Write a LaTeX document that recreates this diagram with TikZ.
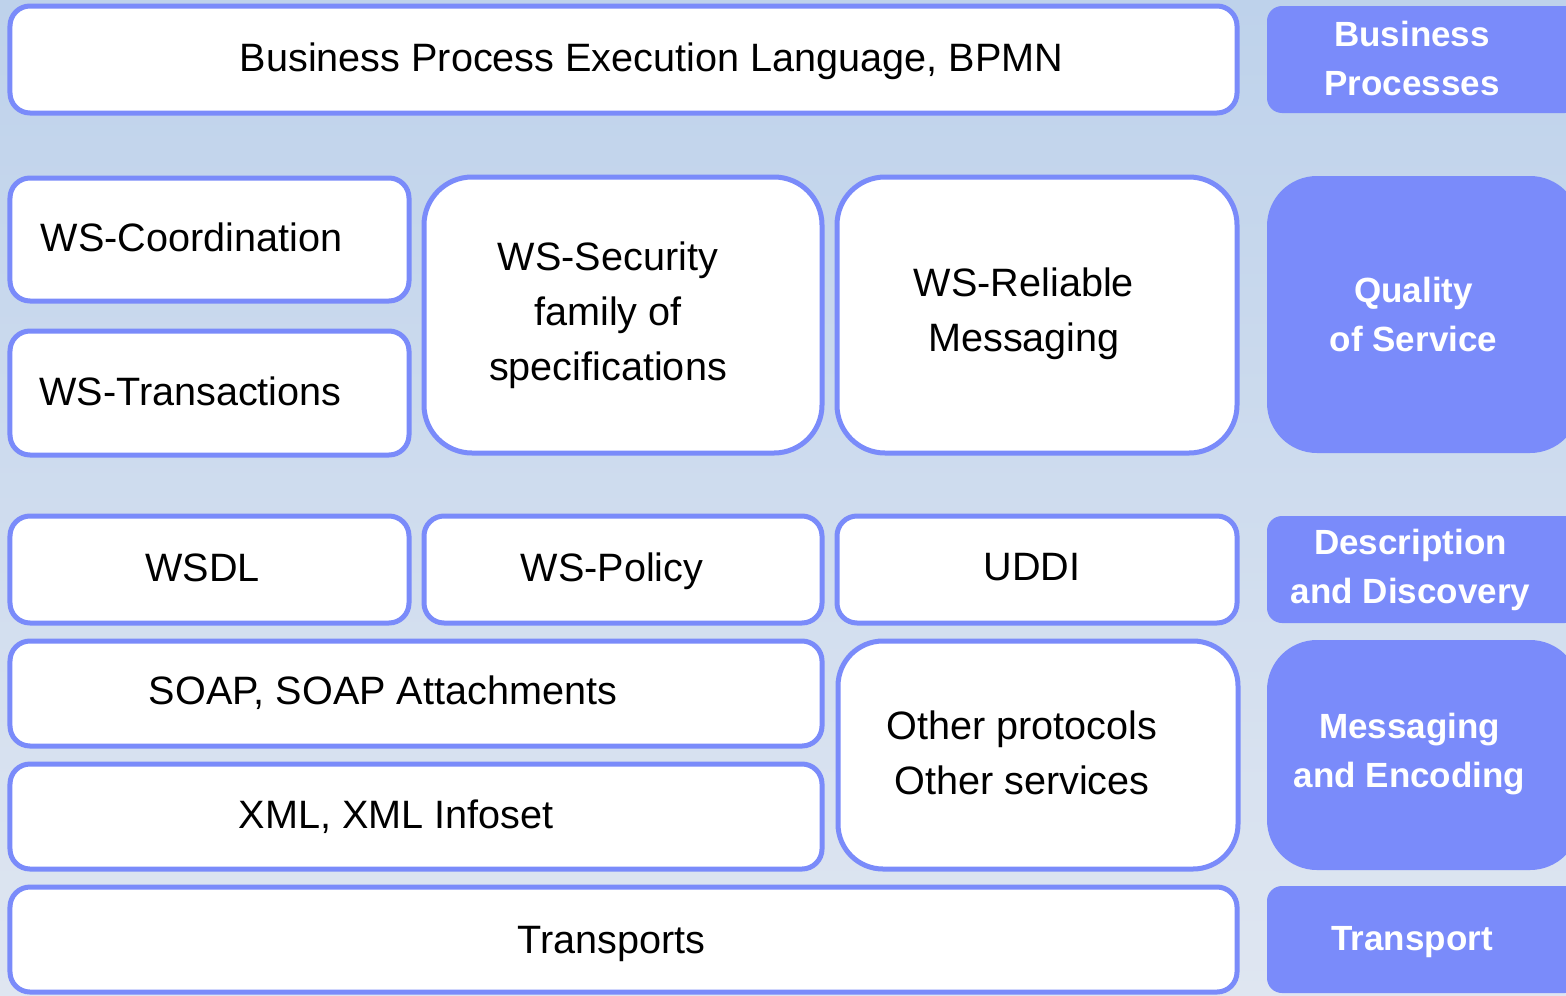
\documentclass[tikz,border=0pt]{standalone}
\usepackage{fontspec}
\setmainfont{Liberation Sans}
\usetikzlibrary{positioning}
\definecolor{layerblue}{RGB}{122,139,250}
\definecolor{bgtop}{RGB}{190,210,235}
\definecolor{bgbottom}{RGB}{223,230,241}

\begin{document}
\begin{tikzpicture}[x=1bp, y=-1bp,
    spec/.style={draw=layerblue, line width=5bp, fill=white, rounded corners=20bp, inner sep=0pt},
    spectext/.style={align=center, font=\fontsize{39.6bp}{55bp}\selectfont},
    layer/.style={fill=layerblue, rounded corners=15bp, inner sep=0pt, minimum width=313bp},
    layertext/.style={align=center, text=white, font=\fontsize{35bp}{49bp}\selectfont\bfseries}]
            % page and background
            \useasboundingbox (0,0) rectangle (1566,995);
            \clip (0,0) rectangle (1566,995);
            \shade[top color=bgtop, bottom color=bgbottom] (0,0) rectangle (1566,995);

            % business processes
            \node[spec, minimum width=1227bp, minimum height=107bp] (bpel) at (623.5,59.5) {};
            \node[spectext] at ([xshift=28bp, yshift=-2bp]bpel.center) {Business Process Execution Language, BPMN};
            \node[layer, minimum height=107bp] (bp) at (1423.5,59.5) {};
            \node[layertext] at ([xshift=-11.5bp, yshift=1bp]bp.center) {Business\\Processes};

            % quality of service
            \node[spec, minimum width=399bp, minimum height=123bp] (coord) at (209.5,239.5) {};
            \node[spectext] at ([xshift=-18bp, yshift=2bp]coord.center) {WS-Coordination};
            \node[spec, minimum width=399bp, minimum height=124bp] (trans) at (209.5,393) {};
            \node[spectext] at ([xshift=-19bp, yshift=2bp]trans.center) {WS-Transactions};
            \node[spec, rounded corners=48bp, minimum width=398bp, minimum height=276bp] (security) at (623,315) {};
            \node[spectext] at ([xshift=-15bp]security.center) {WS-Security\\family of\\specifications};
            \node[spec, rounded corners=48bp, minimum width=400bp, minimum height=276bp] (reliable) at (1037,315) {};
            \node[spectext] at ([xshift=-13bp, yshift=1bp]reliable.center) {WS-Reliable\\Messaging};
            \node[layer, rounded corners=50bp, minimum height=277bp] (qos) at (1423.5,314.5) {};
            \node[layertext] at ([xshift=-10bp]qos.center) {Quality\\of Service};

            % description and discovery
            \node[spec, minimum width=399bp, minimum height=107bp] (wsdl) at (209.5,569.5) {};
            \node[spectext] at ([xshift=-7bp, yshift=2bp]wsdl.center) {WSDL};
            \node[spec, minimum width=398bp, minimum height=107bp] (policy) at (623,569.5) {};
            \node[spectext] at ([xshift=-11bp, yshift=-2bp]policy.center) {WS-Policy};
            \node[spec, minimum width=400bp, minimum height=107bp] (uddi) at (1037,569.5) {};
            \node[spectext] at ([xshift=-5bp, yshift=2bp]uddi.center) {UDDI};
            \node[layer, minimum height=107bp] (dd) at (1423.5,569.5) {};
            \node[layertext] at ([xshift=-13bp]dd.center) {Description\\and Discovery};

            % messaging and encoding
            \node[spec, minimum width=812bp, minimum height=105bp] (soap) at (416,693.5) {};
            \node[spectext] at ([xshift=-33bp, yshift=1bp]soap.center) {SOAP, SOAP Attachments};
            \node[spec, minimum width=812bp, minimum height=105bp] (xml) at (416,816.5) {};
            \node[spectext] at ([xshift=-20bp]xml.center) {XML, XML Infoset};
            \node[spec, rounded corners=45bp, minimum width=400bp, minimum height=228bp] (other) at (1038,755) {};
            \node[spectext] at ([xshift=-16bp, yshift=2bp]other.center) {Other protocols\\Other services};
            \node[layer, rounded corners=50bp, minimum height=230bp] (me) at (1423.5,755) {};
            \node[layertext] at ([xshift=-14bp, yshift=1bp]me.center) {Messaging\\and Encoding};

            % transport
            \node[spec, minimum width=1227bp, minimum height=105bp] (transports) at (623.5,939.5) {};
            \node[spectext] at ([xshift=-12bp, yshift=-4bp]transports.center) {Transports};
            \node[layer, minimum height=107bp] (tr) at (1423.5,939.5) {};
            \node[layertext] at ([xshift=-11.5bp, yshift=-3bp]tr.center) {Transport};
        \end{tikzpicture}
\end{document}
